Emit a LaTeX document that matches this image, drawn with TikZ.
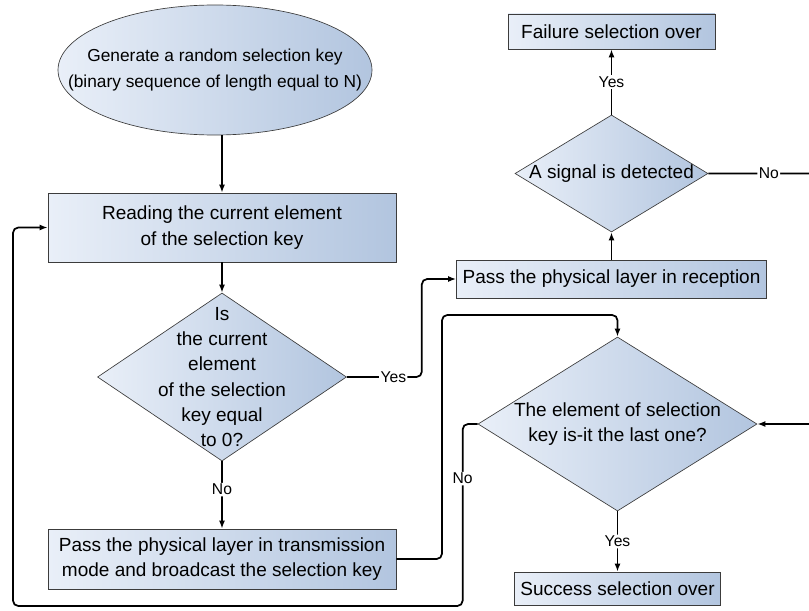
\documentclass[tikz,border=0pt]{standalone}
\usepackage{fontspec}
\setmainfont{Liberation Sans}
\usepackage{tikz}
\usetikzlibrary{arrows.meta, shapes.geometric}
\definecolor{boxlight}{HTML}{E9EFF8}
\definecolor{boxdark}{HTML}{B2C5DF}
\definecolor{boxedge}{HTML}{3C3C3C}

\begin{document}
\begin{tikzpicture}[x=0.75pt, y=-0.75pt, >={Latex[length=6pt,width=4.5pt]},
  txt/.style={align=center, font=\fontsize{14.25}{19}\selectfont},
  shaded/.style={draw=boxedge, line width=0.5pt, left color=boxlight, right color=boxdark},
  procbox/.style={shaded, rectangle, inner sep=2pt, txt},
  startnode/.style={shaded, ellipse, inner sep=0pt},
  decision/.style={shaded, diamond, inner sep=0pt},
  flow/.style={->, line width=1.3pt, rounded corners=4pt},
  lbl/.style={fill=white, inner sep=1pt, font=\fontsize{11.75}{13}\selectfont}]
  \useasboundingbox (0,0) rectangle (809,610);

  % left column
  \node[startnode, minimum width=235.5pt, minimum height=97.5pt,
    label={[align=center, font=\fontsize{13}{19.5}\selectfont]center:Generate a random selection key\\(binary sequence of length equal to N)}] (gen) at (215,70) {};
  \node[procbox, minimum width=261pt, minimum height=51.75pt] (read) at (222,227.5)
    {Reading the current element\\of the selection key};
  \node[decision, minimum width=186.75pt, minimum height=126pt,
    label={[txt]center:Is\\the current\\element\\of the selection\\key equal\\to 0?}] (iszero) at (222,377) {};
  \node[procbox, minimum width=261pt, minimum height=45pt] (trans) at (222,559)
    {Pass the physical layer in transmission\\mode and broadcast the selection key};

  % right column
  \node[procbox, minimum width=155.25pt, minimum height=26.25pt] (fail) at (611.5,31.5) {Failure selection over};
  \node[decision, minimum width=144.75pt, minimum height=87.75pt,
    label={[txt]center:A signal is detected}] (signal) at (611.5,173.5) {};
  \node[procbox, minimum width=232.5pt, minimum height=28.5pt] (recep) at (611.5,279) {Pass the physical layer in reception};
  \node[decision, minimum width=209.25pt, minimum height=130.5pt,
    label={[txt]center:The element of selection\\key is-it the last one?}] (last) at (617.5,424) {};
  \node[procbox, minimum width=154.5pt, minimum height=24.75pt] (succ) at (617.5,588.5) {Success selection over};

  \coordinate (over) at (442,315);
  \coordinate (loopbot) at (13,606);

  % connectors
  \draw[flow] (gen.south -| read.north) -- (read.north);
  \draw[flow] (read) -- (iszero);
  \draw[flow] (iszero) -- node[lbl, pos=0.42]{No} (trans);
  \draw[flow] (iszero.east) -- node[lbl, pos=0.62]{Yes} ++(75,0) |- (recep.west);
  \draw[flow] (recep) -- (signal);
  \draw[flow] (signal) -- node[lbl]{Yes} (fail);
  \draw[flow] (signal.east) -- node[lbl, pos=0.54]{No} ++(112,0) |- (last.east);
  \draw[flow] (trans.east) -| (over) -| (last.north);
  \draw[flow] (last) -- node[lbl, pos=0.5]{Yes} (succ);
  \draw[flow] (last.west) -- ++(-15,0) |- node[lbl, pos=0.15]{No} (loopbot) |- (read.west);
\end{tikzpicture}
\end{document}
